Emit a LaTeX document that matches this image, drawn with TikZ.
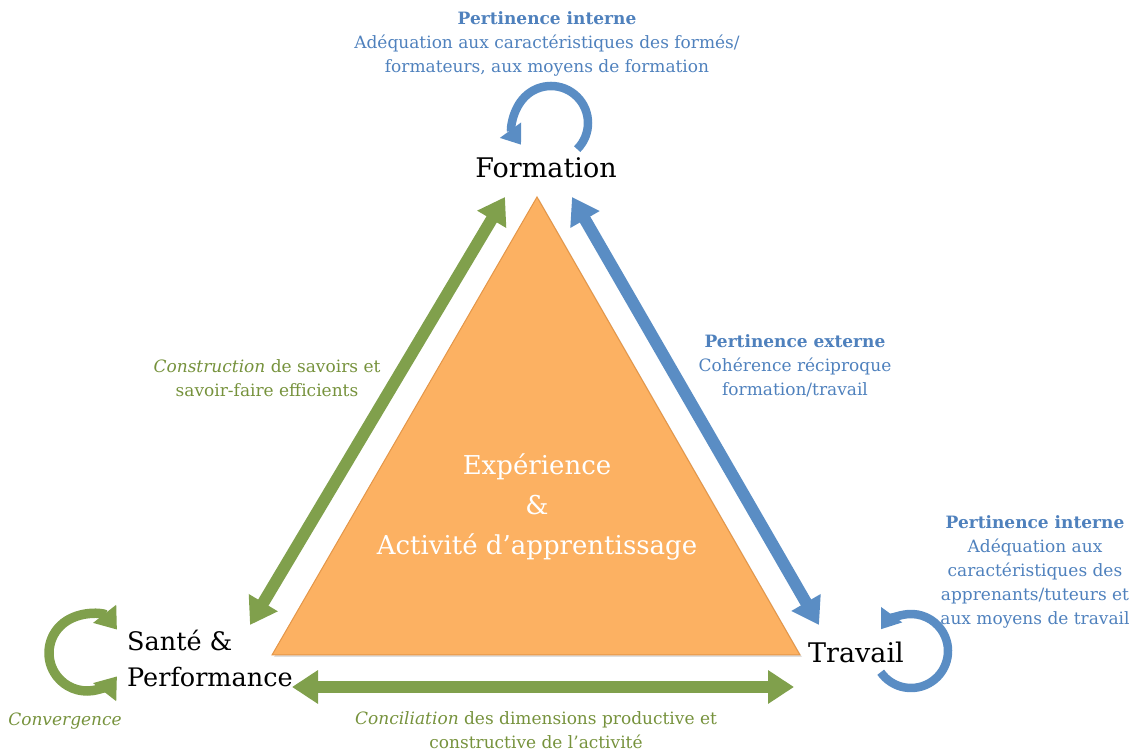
\documentclass[tikz,border=0pt]{standalone}
\usepackage{fontspec}
\setmainfont{DejaVu Serif}
\usetikzlibrary{arrows.meta,positioning,shadows}

\definecolor{vert}{RGB}{128,160,76}
\definecolor{vertTxt}{RGB}{118,146,60}
\definecolor{bleu}{RGB}{90,141,196}
\definecolor{bleuTxt}{RGB}{79,129,189}
\definecolor{triFond}{RGB}{252,177,98}
\definecolor{triBord}{RGB}{228,150,72}

\begin{document}
\begin{tikzpicture}[x=1pt,y=1pt,
  dbl/.style={line width=12pt,{Triangle[width=32pt,length=26pt]}-{Triangle[width=32pt,length=26pt]}},
  boucle/.style={line width=8.5pt,-{Triangle[width=25pt,length=18pt]}},
  sommet/.style={font=\fontsize{27}{36}\selectfont,text=black,inner sep=0pt},
  lbl/.style={align=center,font=\fontsize{17}{24}\selectfont,inner sep=0pt}]
\useasboundingbox (0,0) rectangle (1136,751);

% triangle central
\coordinate (haut) at (537,554);
\coordinate (bg) at (272,96);
\coordinate (bd) at (800,96);
\fill[triFond,draw=triBord,line width=1pt,drop shadow={opacity=0.25,shadow xshift=2pt,shadow yshift=-2pt}]
  (haut) -- (bg) -- (bd) -- cycle;
\node[white,align=center,font=\fontsize{26}{40}\selectfont] (exp) at (537,244)
  {Expérience\\\&\\Activité d’apprentissage};

% sommets
\node[sommet] (formation) at (546,583) {Formation};
\node[sommet,font=\fontsize{25.5}{36}\selectfont,anchor=west,align=left] (sante) at (127,93) {Santé \&\\Performance};
\node[sommet,anchor=west] (travail) at (808,99) {Travail};

% extremites des fleches
\coordinate (fG) at (505,554);
\coordinate (fD) at (572,554);
\coordinate (sH) at (250,126);
\coordinate (sB) at (292,64);
\coordinate (tH) at (819,126);
\coordinate (tB) at (794,64);

\draw[dbl,vert] (fG) -- (sH);
\draw[dbl,bleu] (fD) -- (tH);
\draw[dbl,vert] (sB) -- (tB);

% boucles
\draw[boucle,bleu] ([shift={(-45:37)}]551,628) arc (-45:216:37);
\draw[boucle,bleu] ([shift={(215:37)}]911,100) arc (215:504:37);
\draw[line width=9.5pt,vert,{Triangle[width=28pt,length=20pt]}-{Triangle[width=28pt,length=20pt]}]
  ([shift={(38:38)}]87,98) arc (38:322:38);

% textes
\node[lbl,text=bleuTxt] (pi1) at (547,707)
  {\textbf{Pertinence interne}\\Adéquation aux caractéristiques des formés/\\formateurs, aux moyens de formation};
\node[lbl,text=bleuTxt] (pe) at (795,385)
  {\textbf{Pertinence externe}\\Cohérence réciproque\\formation/travail};
\node[lbl,text=bleuTxt] (pi2) at (1035,179)
  {\textbf{Pertinence interne}\\Adéquation aux\\caractéristiques des\\apprenants/tuteurs et\\aux moyens de travail};
\node[lbl,text=vertTxt] (cons) at (267,373)
  {\textit{Construction} de savoirs et\\savoir-faire efficients};
\node[lbl,text=vertTxt] (conc) at (536,21)
  {\textit{Conciliation} des dimensions productive et\\constructive de l’activité};
\node[lbl,text=vertTxt] (conv) at (65,30) {\textit{Convergence}};
\end{tikzpicture}
\end{document}
